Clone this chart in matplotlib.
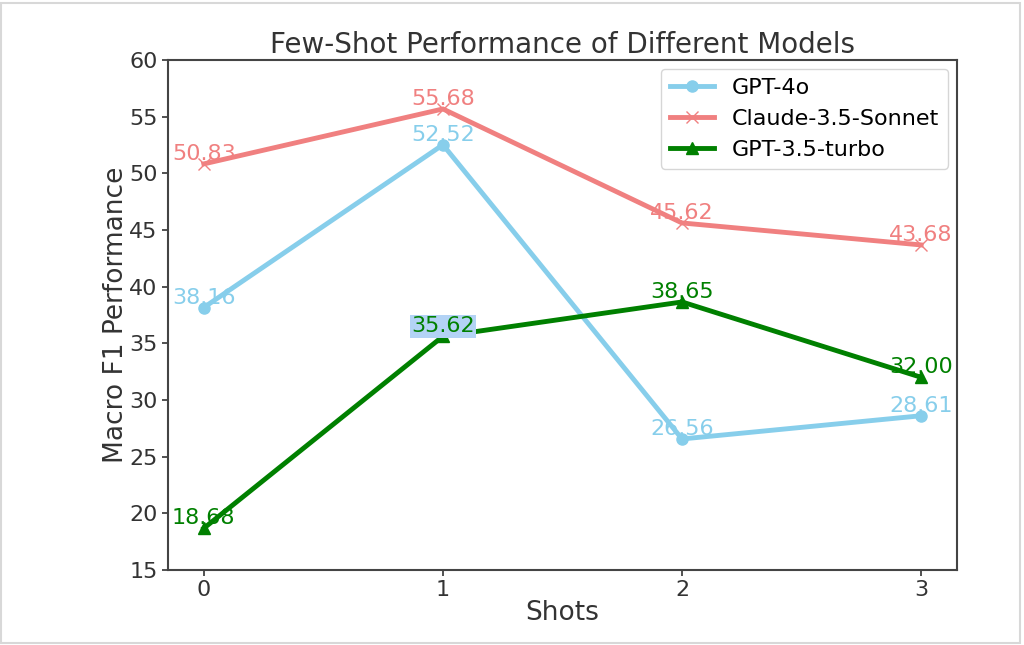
import numpy as np
import matplotlib
matplotlib.use('Agg')
import matplotlib.pyplot as plt
from matplotlib.patches import Rectangle

# Data
shots = [0, 1, 2, 3]
gpt4o = [38.16, 52.52, 26.56, 28.61]
claude = [50.83, 55.68, 45.62, 43.68]
gpt35 = [18.68, 35.62, 38.65, 32.00]

fig = plt.figure(figsize=(10.24, 6.45), dpi=100)
ax = fig.add_axes([0.164, 0.1163, 0.7706, 0.7907])

# outer screenshot frame
fig.patches.append(Rectangle((0.001, 0.003), 0.995, 0.993, transform=fig.transFigure,
                             fill=False, edgecolor='#d8d8d8', linewidth=1.5))

ax.plot(shots, gpt4o, marker='o', color='skyblue', linewidth=3.5, markersize=8, label='GPT-4o')
ax.plot(shots, claude, marker='x', color='lightcoral', linewidth=3.5, markersize=8, label='Claude-3.5-Sonnet')
ax.plot(shots, gpt35, marker='^', color='green', linewidth=3.5, markersize=8, label='GPT-3.5-turbo')

for x, y in zip(shots, gpt4o):
    ax.text(x, y, f'{y:.2f}', ha='center', va='bottom', color='skyblue', fontsize=16)
for x, y in zip(shots, claude):
    ax.text(x, y, f'{y:.2f}', ha='center', va='bottom', color='lightcoral', fontsize=16)
for x, y in zip(shots, gpt35):
    kw = {}
    if x == 1:
        # selection highlight seen in the screenshot
        kw['bbox'] = dict(facecolor='#b3d3f5', edgecolor='none', pad=1)
    ax.text(x, y, f'{y:.2f}', ha='center', va='bottom', color='green', fontsize=16, **kw)

ax.set_ylim(15, 60)
ax.set_xticks(shots)
ax.set_yticks(np.arange(15, 61, 5))
ax.tick_params(labelsize=16, colors='#333333', length=4, width=1.2)
ax.set_xlabel('Shots', fontsize=19, color='#333333', labelpad=0)
ax.set_ylabel('Macro F1 Performance', fontsize=19, color='#333333', labelpad=0)
ax.set_title('Few-Shot Performance of Different Models', fontsize=20, color='#333333', pad=5)
for s in ax.spines.values():
    s.set_color('#444444')
    s.set_linewidth(1.5)
ax.legend(loc='upper right', fontsize=16, borderaxespad=0.4)

fig.savefig('out.png', dpi=100)
